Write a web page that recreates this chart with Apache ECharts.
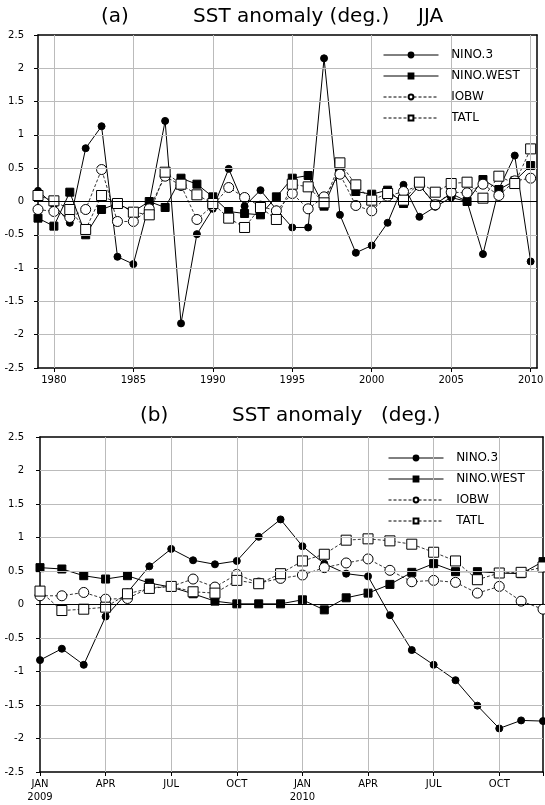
<!DOCTYPE html>
<html>
<head>
<meta charset="utf-8">
<script src="https://cdn.jsdelivr.net/npm/echarts@6/dist/echarts.min.js"></script>
<style>
  html, body { margin: 0; padding: 0; background: #fff; }
  #chart { width: 545px; height: 805px; }
</style>
</head>
<body>
<div id="chart"></div>
<script>
// ---- (a) JJA mean SST anomalies, 1979-2010 ----
const years = [1979, 1980, 1981, 1982, 1983, 1984, 1985, 1986, 1987, 1988, 1989,
  1990, 1991, 1992, 1993, 1994, 1995, 1996, 1997, 1998, 1999,
  2000, 2001, 2002, 2003, 2004, 2005, 2006, 2007, 2008, 2009, 2010];
const nino3JJA = [0.16, -0.05, -0.32, 0.80, 1.13, -0.83, -0.94, -0.03, 1.21, -1.83, -0.49,
  -0.11, 0.49, -0.07, 0.17, -0.12, -0.39, -0.39, 2.15, -0.20, -0.77,
  -0.66, -0.32, 0.25, -0.23, -0.08, 0.06, 0.00, -0.79, 0.19, 0.69, -0.90];
const ninoWestJJA = [-0.25, -0.37, 0.14, -0.50, -0.12, -0.03, -0.15, 0.00, -0.09, 0.35, 0.26,
  0.07, -0.15, -0.18, -0.20, 0.07, 0.35, 0.39, -0.07, 0.50, 0.15,
  0.11, 0.17, -0.03, 0.24, -0.04, 0.12, 0.00, 0.33, 0.18, 0.31, 0.54];
const iobwJJA = [-0.12, -0.15, -0.24, -0.12, 0.48, -0.30, -0.30, -0.11, 0.38, 0.24, -0.27,
  -0.06, 0.21, 0.06, -0.07, -0.14, 0.12, -0.11, 0.07, 0.41, -0.06,
  -0.14, 0.08, 0.15, 0.24, -0.05, 0.14, 0.13, 0.26, 0.09, 0.31, 0.35];
const tatlJJA = [0.09, 0.01, -0.12, -0.42, 0.09, -0.03, -0.16, -0.20, 0.44, 0.26, 0.10,
  -0.03, -0.25, -0.39, -0.09, -0.27, 0.26, 0.22, -0.02, 0.58, 0.25,
  0.02, 0.12, 0.02, 0.29, 0.14, 0.27, 0.29, 0.05, 0.38, 0.27, 0.79];
const yearTicks = [1980, 1985, 1990, 1995, 2000, 2005, 2010];

// ---- (b) monthly SST anomalies, Jan 2009 - Dec 2010 ----
const monthIndex = [0, 1, 2, 3, 4, 5, 6, 7, 8, 9, 10, 11,
  12, 13, 14, 15, 16, 17, 18, 19, 20, 21, 22, 23];
const nino3Mon = [-0.83, -0.66, -0.90, -0.18, 0.18, 0.57, 0.83, 0.66, 0.60, 0.65, 1.01, 1.27,
  0.87, 0.61, 0.46, 0.42, -0.16, -0.68, -0.90, -1.13, -1.51, -1.85, -1.73, -1.74];
const ninoWestMon = [0.55, 0.53, 0.43, 0.38, 0.43, 0.32, 0.26, 0.16, 0.05, 0.01, 0.01, 0.01,
  0.07, -0.08, 0.10, 0.17, 0.30, 0.48, 0.61, 0.49, 0.49, 0.47, 0.46, 0.64];
const iobwMon = [0.13, 0.13, 0.18, 0.08, 0.09, 0.25, 0.27, 0.38, 0.26, 0.45, 0.32, 0.39,
  0.44, 0.55, 0.62, 0.68, 0.51, 0.34, 0.36, 0.33, 0.17, 0.27, 0.05, -0.07];
const tatlMon = [0.20, -0.09, -0.07, -0.04, 0.16, 0.24, 0.27, 0.19, 0.17, 0.36, 0.31, 0.46,
  0.65, 0.75, 0.96, 0.98, 0.95, 0.90, 0.78, 0.65, 0.37, 0.47, 0.48, 0.56];
const monthTicks = [0, 3, 6, 9, 12, 15, 18, 21];
const monthTickLabels = ['JAN\n2009', 'APR', 'JUL', 'OCT', 'JAN\n2010', 'APR', 'JUL', 'OCT'];

// shared value levels for the horizontal guides
const anomalyLevels = [-2, -1.5, -1, -0.5, 0.5, 1, 1.5, 2];

const seriesNames = ['NINO.3', 'NINO.WEST', 'IOBW', 'TATL'];

const FONT = 'DejaVu Sans';
const INK = '#000';
const GUIDE = { color: '#bbb', type: 'solid', width: 1 };
const Y_MIN = -2.5, Y_MAX = 2.5;
const YEAR_MIN = 1979, YEAR_MAX = 2010.4;
const MONTH_MIN = 0, MONTH_MAX = 23;

// marker + line look for each index
const looks = {
  'NINO.3':    { symbol: 'circle', size: 7,  fill: INK,    dash: 'solid', width: 1 },
  'NINO.WEST': { symbol: 'rect',   size: 8,  fill: INK,    dash: 'solid', width: 1 },
  'IOBW':      { symbol: 'circle', size: 10, fill: '#fff', dash: [3, 2],  width: 0.8 },
  'TATL':      { symbol: 'rect',   size: 10, fill: '#fff', dash: [3, 2],  width: 0.8 }
};

function pairs(xs, ys) {
  return xs.map((x, i) => [x, ys[i]]);
}

// light guides at the tick positions, then the black zero line on top
function guideLines(xGuides) {
  const items = [];
  anomalyLevels.forEach(v => items.push({ yAxis: v, lineStyle: GUIDE }));
  xGuides.forEach(v => items.push({ xAxis: v, lineStyle: GUIDE }));
  items.push({ yAxis: 0, lineStyle: { color: INK, type: 'solid', width: 1 } });
  return {
    silent: true,
    symbol: 'none',
    label: { show: false },
    animation: false,
    data: items
  };
}

function makeSeries(name, gridIdx, xs, ys, xGuides) {
  const lk = looks[name];
  const s = {
    name: name,
    type: 'line',
    xAxisIndex: gridIdx,
    yAxisIndex: gridIdx,
    data: pairs(xs, ys),
    symbol: lk.symbol,
    symbolSize: lk.size,
    showAllSymbol: true,
    clip: false,
    lineStyle: { color: INK, width: lk.width, type: lk.dash },
    itemStyle: { color: lk.fill, borderColor: INK, borderWidth: 1 },
    emphasis: { disabled: true }
  };
  if (xGuides) {
    s.markLine = guideLines(xGuides);
  }
  return s;
}

const frameLine = { show: true, onZero: false, lineStyle: { color: INK, width: 1.5 } };

function yAxisFor(gridIdx, margin) {
  return {
    type: 'value',
    gridIndex: gridIdx,
    position: 'left',
    min: Y_MIN,
    max: Y_MAX,
    interval: 0.5,
    axisLine: frameLine,
    axisTick: { show: true, length: 4, lineStyle: { color: INK } },
    axisLabel: { fontFamily: FONT, fontSize: 10, color: INK, margin: margin },
    splitLine: { show: false }
  };
}

// plain edges closing each panel's frame (top and right)
function edgeX(gridIdx, min, max) {
  return {
    type: 'value', gridIndex: gridIdx, position: 'top', min: min, max: max,
    axisLine: frameLine, axisTick: { show: false }, axisLabel: { show: false },
    splitLine: { show: false }
  };
}
function edgeY(gridIdx) {
  return {
    type: 'value', gridIndex: gridIdx, position: 'right', min: Y_MIN, max: Y_MAX,
    axisLine: frameLine, axisTick: { show: false }, axisLabel: { show: false },
    splitLine: { show: false }
  };
}

function legendAt(left, top) {
  return {
    orient: 'vertical',
    left: left,
    top: top,
    padding: 0,
    itemWidth: 55,
    itemHeight: 6,
    itemGap: 9,
    selectedMode: false,
    data: seriesNames,
    formatter: n => '  ' + n,
    lineStyle: { width: 1 },
    textStyle: { fontFamily: FONT, fontSize: 12, color: INK }
  };
}

const titleStyle = { fontFamily: FONT, fontSize: 20, fontWeight: 'normal', color: INK };

const option = {
  animation: false,
  backgroundColor: '#fff',
  title: [
    { text: '(a)', left: 101, top: 7, padding: 0, textStyle: titleStyle },
    { text: 'SST anomaly (deg.)', left: 193, top: 7, padding: 0, textStyle: titleStyle },
    { text: 'JJA', left: 418, top: 7, padding: 0, textStyle: titleStyle },
    { text: '(b)', left: 140, top: 406, padding: 0, textStyle: titleStyle },
    { text: 'SST anomaly', left: 232, top: 406, padding: 0, textStyle: titleStyle },
    { text: '(deg.)', left: 381, top: 406, padding: 0, textStyle: titleStyle }
  ],
  legend: [legendAt(383, 49), legendAt(388, 452)],
  grid: [
    { left: 38, top: 35, right: 8, bottom: 437, outerBoundsMode: 'none' },
    { left: 40, top: 437, right: 2, bottom: 33, outerBoundsMode: 'none' }
  ],
  xAxis: [
    {
      type: 'value',
      gridIndex: 0,
      position: 'bottom',
      min: YEAR_MIN,
      max: YEAR_MAX,
      axisLine: frameLine,
      axisTick: { show: true, length: 4, customValues: yearTicks, lineStyle: { color: INK } },
      axisLabel: {
        customValues: yearTicks,
        formatter: v => String(v),
        fontFamily: FONT, fontSize: 10, color: INK, margin: 7
      },
      splitLine: { show: false }
    },
    {
      type: 'value',
      gridIndex: 1,
      position: 'bottom',
      min: MONTH_MIN,
      max: MONTH_MAX,
      interval: 3,
      axisLine: frameLine,
      axisTick: { show: true, length: 4, lineStyle: { color: INK } },
      axisLabel: {
        formatter: v => {
          const k = monthTicks.indexOf(v);
          return k >= 0 ? monthTickLabels[k] : '';
        },
        fontFamily: FONT, fontSize: 10, color: INK, margin: 6, lineHeight: 13
      },
      splitLine: { show: false }
    },
    edgeX(0, YEAR_MIN, YEAR_MAX),
    edgeX(1, MONTH_MIN, MONTH_MAX)
  ],
  yAxis: [yAxisFor(0, 14), yAxisFor(1, 16), edgeY(0), edgeY(1)],
  series: [
    makeSeries('NINO.3', 0, years, nino3JJA, yearTicks),
    makeSeries('NINO.WEST', 0, years, ninoWestJJA, null),
    makeSeries('IOBW', 0, years, iobwJJA, null),
    makeSeries('TATL', 0, years, tatlJJA, null),
    makeSeries('NINO.3', 1, monthIndex, nino3Mon, monthTicks.slice(1)),
    makeSeries('NINO.WEST', 1, monthIndex, ninoWestMon, null),
    makeSeries('IOBW', 1, monthIndex, iobwMon, null),
    makeSeries('TATL', 1, monthIndex, tatlMon, null)
  ]
};

const chart = echarts.init(document.getElementById('chart'), null, { renderer: 'canvas' });
chart.setOption(option);
</script>
</body>
</html>
